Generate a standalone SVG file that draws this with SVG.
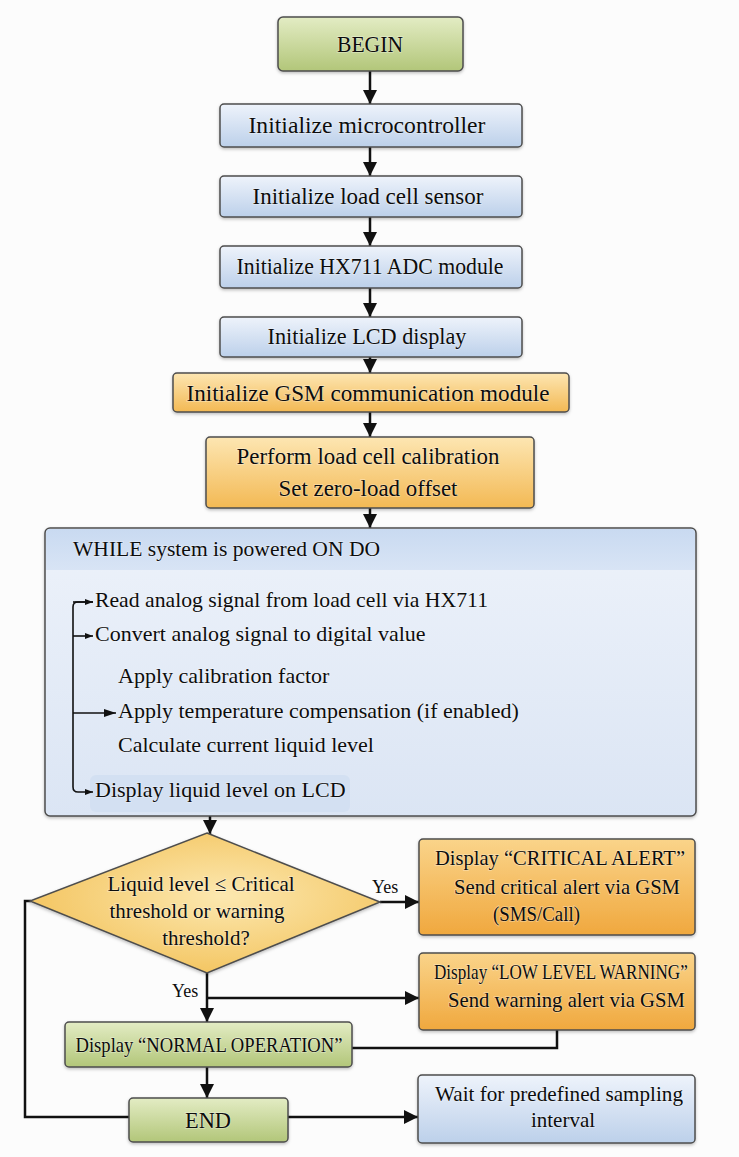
<svg xmlns="http://www.w3.org/2000/svg" width="739" height="1157" viewBox="0 0 739 1157">
<defs>
<linearGradient id="gGreen" x1="0" y1="0" x2="0" y2="1"><stop offset="0" stop-color="#e3ecc4"/><stop offset="1" stop-color="#b2c679"/></linearGradient>
<linearGradient id="gBlue" x1="0" y1="0" x2="0" y2="1"><stop offset="0" stop-color="#eef3fb"/><stop offset="1" stop-color="#bcd0ea"/></linearGradient>
<linearGradient id="gOrangeL" x1="0" y1="0" x2="0" y2="1"><stop offset="0" stop-color="#fde6b2"/><stop offset="1" stop-color="#f3b954"/></linearGradient>
<linearGradient id="gOrange" x1="0" y1="0" x2="0" y2="1"><stop offset="0" stop-color="#fad48a"/><stop offset="1" stop-color="#f0a83e"/></linearGradient>
<radialGradient id="gDiamond" cx="0.55" cy="0.45" r="0.6"><stop offset="0" stop-color="#fce8b0"/><stop offset="1" stop-color="#f3c35c"/></radialGradient>
<linearGradient id="gWhile" x1="0" y1="0" x2="0" y2="1"><stop offset="0" stop-color="#edf2fa"/><stop offset="1" stop-color="#dbe5f4"/></linearGradient>
<linearGradient id="gHead" x1="0" y1="0" x2="0" y2="1"><stop offset="0" stop-color="#c9daf1"/><stop offset="1" stop-color="#d8e4f5"/></linearGradient>
<filter id="sh" x="-10%" y="-10%" width="120%" height="130%"><feDropShadow dx="0" dy="1.5" stdDeviation="1.5" flood-color="#000" flood-opacity="0.25"/></filter>
<marker id="ah" markerUnits="userSpaceOnUse" markerWidth="14" markerHeight="14" viewBox="0 0 14 14" refX="14" refY="7" orient="auto"><path d="M0,0 L14,7 L0,14 Z" fill="#111"/></marker>
<marker id="ahs" markerUnits="userSpaceOnUse" markerWidth="8" markerHeight="8" viewBox="0 0 8 8" refX="8" refY="4" orient="auto"><path d="M0,1 L8,4 L0,7 Z" fill="#111"/></marker>
<marker id="ahm" markerUnits="userSpaceOnUse" markerWidth="12" markerHeight="10" viewBox="0 0 12 10" refX="12" refY="5" orient="auto"><path d="M0,1 L12,5 L0,9 Z" fill="#111"/></marker>
<style>
.box{stroke:#4d4d4d;stroke-width:1.5;filter:url(#sh)}
text{font-family:"Liberation Serif","Times New Roman",serif;fill:#0d0d0d;paint-order:stroke;stroke:#fff;stroke-opacity:0.35;stroke-width:1.5}
.t23{font-size:23px;text-anchor:middle}
.t22{font-size:22px}
.t21{font-size:21px}
.t18{font-size:18px}
.c{text-anchor:middle}
.con{fill:none;stroke:#111;stroke-width:2.5}
.thin{fill:none;stroke:#111;stroke-width:1.6}
</style>
</defs>
<rect width="739" height="1157" fill="#fcfcfc"/>

<g id="connectors">
<line class="con" x1="370" y1="71" x2="370" y2="104" marker-end="url(#ah)"/>
<line class="con" x1="370" y1="147" x2="370" y2="176" marker-end="url(#ah)"/>
<line class="con" x1="370" y1="217" x2="370" y2="246" marker-end="url(#ah)"/>
<line class="con" x1="370" y1="288" x2="370" y2="317" marker-end="url(#ah)"/>
<line class="con" x1="370" y1="357" x2="370" y2="373" marker-end="url(#ah)"/>
<line class="con" x1="370" y1="412" x2="370" y2="437" marker-end="url(#ah)"/>
<line class="con" x1="370" y1="508" x2="370" y2="528" marker-end="url(#ah)"/>
<line class="con" x1="210" y1="816" x2="210" y2="834" marker-end="url(#ah)"/>
<line class="con" x1="380" y1="902" x2="419" y2="902" marker-end="url(#ah)"/>
<line class="con" x1="207" y1="973" x2="207" y2="1022" marker-end="url(#ah)"/>
<line class="con" x1="207" y1="998" x2="419" y2="998" marker-end="url(#ah)"/>
<polyline class="con" points="352,1048 557,1048 557,1030"/>
<line class="con" x1="207" y1="1067" x2="207" y2="1098" marker-end="url(#ah)"/>
<polyline class="con" points="129,1117 25,1117 25,901 31,901"/>
<line class="con" x1="288" y1="1117" x2="418" y2="1117" marker-end="url(#ah)"/>
</g>

<g id="begin"><rect class="box" x="278" y="17" width="185" height="54" rx="5" fill="url(#gGreen)"/><text class="t23" x="370" y="52" textLength="66" lengthAdjust="spacingAndGlyphs">BEGIN</text></g>
<g id="init-mcu"><rect class="box" x="220" y="104" width="302" height="43" rx="4" fill="url(#gBlue)"/><text class="t23" x="367" y="133" textLength="237" lengthAdjust="spacingAndGlyphs">Initialize microcontroller</text></g>
<g id="init-loadcell"><rect class="box" x="220" y="176" width="302" height="41" rx="4" fill="url(#gBlue)"/><text class="t23" x="368" y="204" textLength="231" lengthAdjust="spacingAndGlyphs">Initialize load cell sensor</text></g>
<g id="init-hx711"><rect class="box" x="220" y="246" width="302" height="42" rx="4" fill="url(#gBlue)"/><text class="t23" x="370" y="274" textLength="267" lengthAdjust="spacingAndGlyphs">Initialize HX711 ADC module</text></g>
<g id="init-lcd"><rect class="box" x="220" y="317" width="302" height="40" rx="4" fill="url(#gBlue)"/><text class="t23" x="367" y="344" textLength="199" lengthAdjust="spacingAndGlyphs">Initialize LCD display</text></g>
<g id="init-gsm"><rect class="box" x="173" y="373" width="396" height="39" rx="4" fill="url(#gOrangeL)"/><text class="t23" x="368" y="401" textLength="363" lengthAdjust="spacingAndGlyphs">Initialize GSM communication module</text></g>
<g id="calibration"><rect class="box" x="206" y="437" width="328" height="71" rx="4" fill="url(#gOrangeL)"/><text class="t23" x="368" y="464" textLength="263" lengthAdjust="spacingAndGlyphs">Perform load cell calibration</text><text class="t23" x="368" y="496" textLength="179" lengthAdjust="spacingAndGlyphs">Set zero-load offset</text></g>

<g id="while-loop">
<rect class="box" x="45" y="528" width="651" height="288" rx="5" fill="url(#gWhile)"/>
<path d="M46,570 V533 Q46,529 50,529 H691 Q695,529 695,533 V570 Z" fill="url(#gHead)"/>
<text class="t22" x="73" y="556" textLength="307" lengthAdjust="spacingAndGlyphs">WHILE system is powered ON DO</text>
<rect x="90" y="775" width="260" height="37" rx="6" fill="#d3e0f2"/>
<path class="thin" d="M93,602 H78 Q73,602 73,607 V787 Q73,792 78,792 H93" marker-end="url(#ahs)"/>
<line class="thin" x1="73" y1="636" x2="93" y2="636" marker-end="url(#ahs)"/>
<line class="thin" x1="73" y1="713" x2="116" y2="713" marker-end="url(#ahm)"/>
<path class="thin" d="M73,602 H93" marker-end="url(#ahs)"/>
<text class="t22" x="95" y="607" textLength="393" lengthAdjust="spacingAndGlyphs">Read analog signal from load cell via HX711</text>
<text class="t22" x="95" y="641">Convert analog signal to digital value</text>
<text class="t22" x="118" y="683">Apply calibration factor</text>
<text class="t22" x="118" y="718">Apply temperature compensation (if enabled)</text>
<text class="t22" x="118" y="752">Calculate current liquid level</text>
<text class="t22" x="95" y="797">Display liquid level on LCD</text>
</g>

<g id="decision">
<polygon class="box" points="207,833 380,902 207,973 30,901" fill="url(#gDiamond)"/>
<text class="t21 c" x="201" y="891">Liquid level ≤ Critical</text>
<text class="t21 c" x="197" y="918">threshold or warning</text>
<text class="t21 c" x="206" y="945">threshold?</text>
<text class="t18" x="372" y="893">Yes</text>
<text class="t18" x="172" y="997">Yes</text>
</g>

<g id="critical-alert"><rect class="box" x="419" y="839" width="276" height="96" rx="4" fill="url(#gOrange)"/>
<text class="t21" x="435" y="865" textLength="250" lengthAdjust="spacingAndGlyphs">Display “CRITICAL ALERT”</text>
<text class="t21" x="454" y="894" textLength="226" lengthAdjust="spacingAndGlyphs">Send critical alert via GSM</text>
<text class="t21" x="493" y="921" textLength="87" lengthAdjust="spacingAndGlyphs">(SMS/Call)</text></g>

<g id="low-warning"><rect class="box" x="419" y="953" width="276" height="77" rx="4" fill="url(#gOrange)"/>
<text class="t21" transform="translate(434,979) scale(0.815,1)" x="0" y="0">Display “LOW LEVEL WARNING”</text>
<text class="t21" x="448" y="1007" textLength="237" lengthAdjust="spacingAndGlyphs">Send warning alert via GSM</text></g>

<g id="normal"><rect class="box" x="65" y="1022" width="287" height="45" rx="4" fill="url(#gGreen)"/>
<text class="t21 c" x="209" y="1052" textLength="267" lengthAdjust="spacingAndGlyphs">Display “NORMAL OPERATION”</text></g>

<g id="end"><rect class="box" x="129" y="1098" width="159" height="44" rx="4" fill="url(#gGreen)"/><text class="t23" x="208" y="1128" textLength="46" lengthAdjust="spacingAndGlyphs">END</text></g>

<g id="wait"><rect class="box" x="418" y="1075" width="277" height="68" rx="4" fill="url(#gBlue)"/>
<text class="t21 c" x="559" y="1101" textLength="248" lengthAdjust="spacingAndGlyphs">Wait for predefined sampling</text>
<text class="t21 c" x="563" y="1127">interval</text></g>
</svg>
